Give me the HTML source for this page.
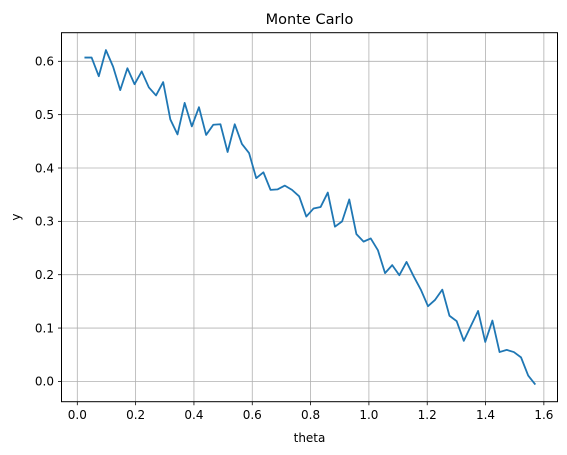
<!DOCTYPE html>
<html><head><meta charset="utf-8"><style>
html,body{margin:0;padding:0;background:#fff;}
svg{display:block;font-family:"DejaVu Sans","Liberation Sans",sans-serif;}
</style></head><body>
<svg id="chart" width="567" height="455">
<text x="309.5" y="24" text-anchor="middle" font-size="14.5" fill="#000">Monte Carlo</text>
<g id="grid"></g>
<g id="ticks"></g>
<path id="line" fill="none" stroke="#1f77b4" stroke-width="1.8" stroke-linejoin="round"></path>
<rect x="61.5" y="32.7" width="496" height="369" fill="none" stroke="#000" stroke-width="1"></rect>
<text x="309.5" y="442" text-anchor="middle" font-size="12">theta</text>
<text x="20" y="217" text-anchor="middle" font-size="12" transform="rotate(-90 20 217)">y</text>
</svg>
<script>
const yValues=[0.607,0.607,0.572,0.621,0.590,0.546,0.587,0.557,0.581,0.551,0.536,0.561,0.491,0.463,0.522,0.478,0.514,0.462,0.481,0.482,0.430,0.482,0.445,0.428,0.381,0.392,0.359,0.360,0.367,0.359,0.347,0.309,0.324,0.327,0.354,0.290,0.300,0.341,0.276,0.262,0.268,0.246,0.203,0.218,0.199,0.224,0.197,0.172,0.141,0.153,0.172,0.123,0.113,0.076,0.104,0.132,0.074,0.114,0.055,0.059,0.055,0.045,0.011,-0.006];
const xTicks=[0.0,0.2,0.4,0.6,0.8,1.0,1.2,1.4,1.6];
const yTicks=[0.0,0.1,0.2,0.3,0.4,0.5,0.6];
const xS=v=>77.3+v*291.6;
const yS=v=>381.4-v*533.5;
const ns="http://www.w3.org/2000/svg";
const grid=document.getElementById('grid'),ticks=document.getElementById('ticks');
function mk(t,a,p){const e=document.createElementNS(ns,t);for(const k in a)e.setAttribute(k,a[k]);p.appendChild(e);return e;}
xTicks.forEach(v=>{const x=xS(v);
const g=mk('line',{x1:x,x2:x,y1:32.7,y2:401.7,stroke:'#b0b0b0','stroke-width':0.8},grid);


mk('line',{x1:x,x2:x,y1:401.7,y2:405.2,stroke:'#000','stroke-width':0.8},ticks);
const t=mk('text',{x:x,y:419,'text-anchor':'middle','font-size':'12'},ticks);t.textContent=v.toFixed(1);

});
yTicks.forEach(v=>{const y=yS(v);
const g=mk('line',{x1:61.5,x2:557.5,y1:y,y2:y,stroke:'#b0b0b0','stroke-width':0.8},grid);


mk('line',{x1:58,x2:61.5,y1:y,y2:y,stroke:'#000','stroke-width':0.8},ticks);
const t=mk('text',{x:54,y:y+4.3,'text-anchor':'end','font-size':'12'},ticks);t.textContent=v.toFixed(1);

});
const n=yValues.length;
document.getElementById('line').setAttribute('d',yValues.map((v,i)=>(i?'L':'M')+xS(Math.PI/2*(i+1)/n).toFixed(2)+','+yS(v).toFixed(2)).join(''));
</script>
</body></html>
